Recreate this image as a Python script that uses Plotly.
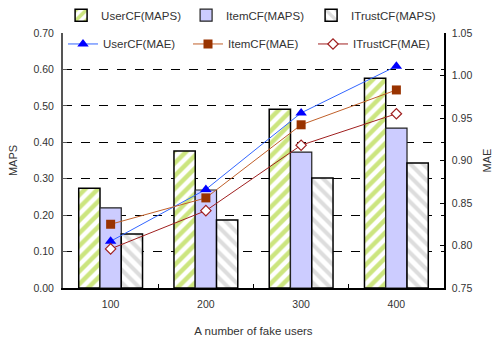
import plotly.graph_objects as go

categories = ["100", "200", "300", "400"]
usercf_maps = [0.274, 0.376, 0.491, 0.576]
itemcf_maps = [0.220, 0.269, 0.373, 0.439]
itrust_maps = [0.148, 0.187, 0.302, 0.343]
usercf_mae = [0.805, 0.866, 0.956, 1.011]
itemcf_mae = [0.825, 0.856, 0.942, 0.983]
itrust_mae = [0.796, 0.841, 0.918, 0.955]

font_family = "Liberation Sans, Arial, sans-serif"
txt = "#333333"

fig = go.Figure()
fig.add_trace(go.Bar(
    x=categories, y=usercf_maps, name="UserCF(MAPS)", legend="legend",
    marker=dict(color="white", line=dict(color="black", width=1.5),
                pattern=dict(shape="/", fgcolor="#99CC00", bgcolor="white", size=9, solidity=0.5))))
fig.add_trace(go.Bar(
    x=categories, y=itemcf_maps, name="ItemCF(MAPS)", legend="legend",
    marker=dict(color="#CCCCFF", line=dict(color="#222222", width=1.2))))
fig.add_trace(go.Bar(
    x=categories, y=itrust_maps, name="ITrustCF(MAPS)", legend="legend",
    marker=dict(color="white", line=dict(color="black", width=1.5),
                pattern=dict(shape="\\", fgcolor="#BBBBBB", bgcolor="white", size=9, solidity=0.45))))

fig.add_trace(go.Scatter(
    x=categories, y=usercf_mae, name="UserCF(MAE)", yaxis="y2", legend="legend2",
    mode="lines+markers", line=dict(color="#3366FF", width=1),
    marker=dict(symbol="triangle-up", size=10, color="#0000FF")))
fig.add_trace(go.Scatter(
    x=categories, y=itemcf_mae, name="ItemCF(MAE)", yaxis="y2", legend="legend2",
    mode="lines+markers", line=dict(color="#C0602A", width=1),
    marker=dict(symbol="square", size=9, color="#993300")))
fig.add_trace(go.Scatter(
    x=categories, y=itrust_mae, name="ITrustCF(MAE)", yaxis="y2", legend="legend2",
    mode="lines+markers", line=dict(color="#A02020", width=1),
    marker=dict(symbol="diamond", size=8, color="white", line=dict(color="#A02020", width=1.2))))

fig.update_layout(
    width=496, height=337,
    margin=dict(l=63, r=52, t=33, b=49, autoexpand=False),
    paper_bgcolor="white", plot_bgcolor="white",
    font=dict(family=font_family, size=11, color=txt),
    barmode="group", bargap=0.33, bargroupgap=0,
    xaxis=dict(type="category", range=[-0.5, 3.5], showline=True, linecolor="black", linewidth=2,
               ticks="inside", tickson="boundaries", ticklen=4, tickcolor="black",
               showgrid=False, tickfont=dict(size=10.5, color=txt), automargin=False,
               ticklabelstandoff=5,
               title=dict(text="A number of fake users", font=dict(size=11.5, color=txt), standoff=20)),
    yaxis=dict(range=[0, 0.70], dtick=0.1, tickformat=".2f", showline=True, linecolor="#555555",
               linewidth=2, ticks="inside", ticklen=4, tickcolor="#555555",
               showgrid=True, gridcolor="black", griddash="dash", gridwidth=1,
               zeroline=False, tickfont=dict(size=10.5, color=txt), automargin=False,
               ticklabelstandoff=5,
               title=dict(text="MAPS", font=dict(size=11, color=txt), standoff=14)),
    yaxis2=dict(range=[0.75, 1.05], dtick=0.05, tickformat=".2f", overlaying="y", side="right",
                showline=True, linecolor="black", linewidth=1.5, ticks="inside", ticklen=4,
                tickcolor="black", showgrid=False, zeroline=False, automargin=False,
                tickfont=dict(size=10.5, color=txt), ticklabelstandoff=4,
                title=dict(text="MAE", font=dict(size=11, color=txt), standoff=12)),
    legend=dict(orientation="h", x=-0.005, y=1.07, xanchor="left", yanchor="middle",
                entrywidth=80, font=dict(size=11.5, color=txt), bgcolor="rgba(0,0,0,0)",
                itemwidth=30, tracegroupgap=0),
    legend2=dict(orientation="h", x=0.0, y=0.957, xanchor="left", yanchor="middle",
                 entrywidth=80, font=dict(size=11.5, color=txt), bgcolor="rgba(0,0,0,0)",
                 itemwidth=30, tracegroupgap=0),
)

fig.write_html("out.html", config={"displayModeBar": False},
               post_script="document.body.style.margin='0';")
